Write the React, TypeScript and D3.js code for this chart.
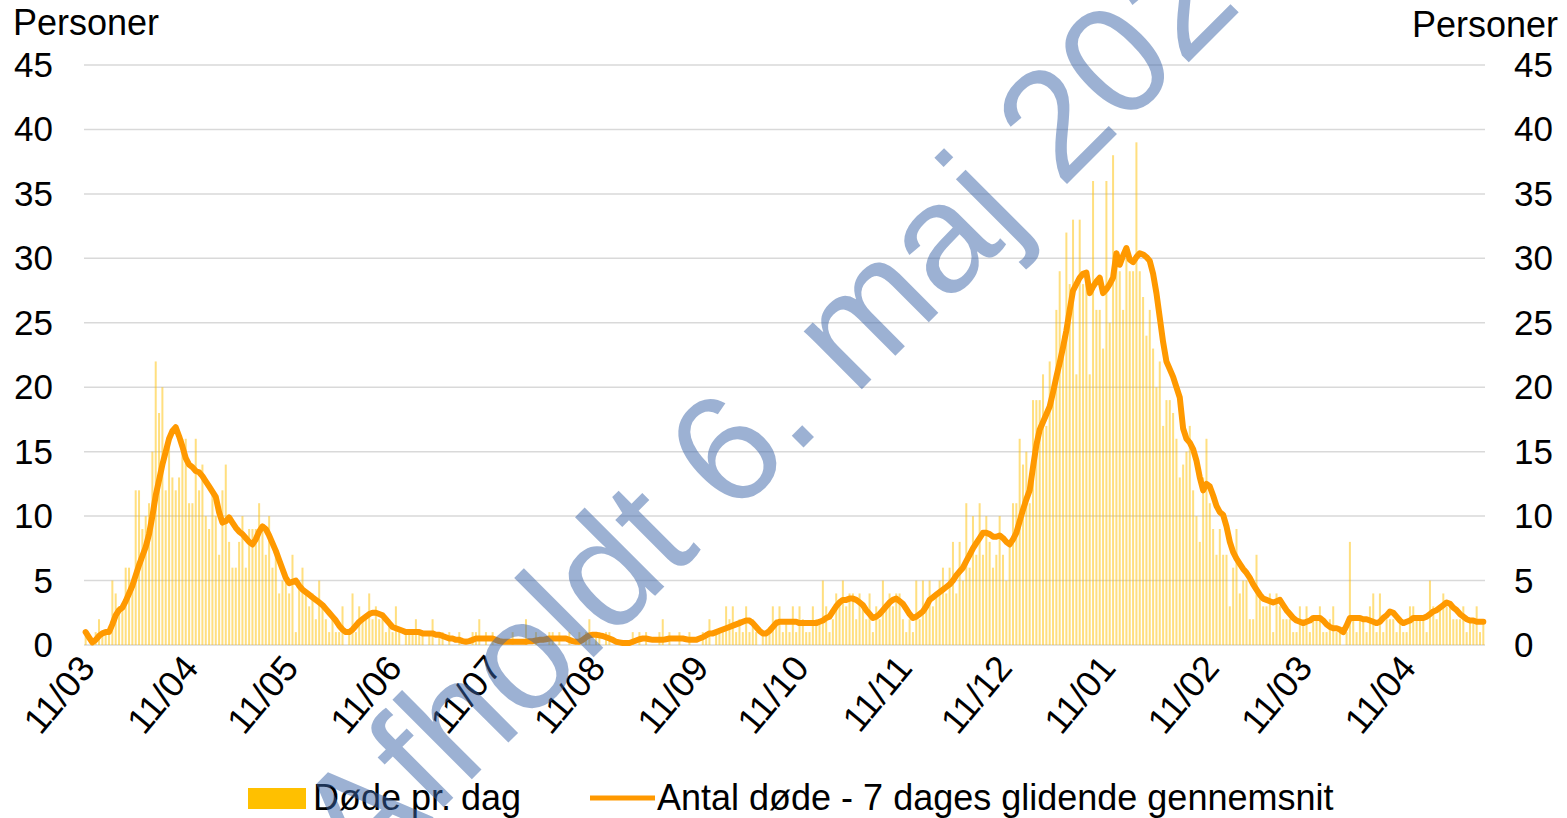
import React from "react";
import * as d3 from "d3";

// Døde pr. dag, 11/03/2020 - 04/05/2021
const dailyDeaths = [
  1, 0, 0, 1, 2, 1, 1, 1, 5, 4,
  3, 3, 6, 6, 5, 12, 12, 9, 10, 11,
  15, 22, 18, 20, 12, 16, 13, 12, 13, 16,
  16, 11, 11, 16, 12, 14, 10, 9, 12, 10,
  7, 12, 14, 8, 6, 6, 8, 10, 6, 9,
  9, 9, 11, 9, 7, 10, 6, 7, 4, 5,
  5, 4, 7, 1, 5, 6, 4, 3, 4, 2,
  5, 3, 2, 1, 2, 1, 1, 3, 0, 1,
  4, 1, 3, 2, 2, 4, 2, 3, 2, 2,
  1, 2, 1, 3, 1, 0, 1, 1, 1, 2,
  1, 1, 0, 1, 2, 0, 1, 1, 0, 1,
  0, 0, 1, 0, 0, 0, 1, 1, 2, 0,
  1, 0, 1, 0, 0, 0, 0, 0, 1, 0,
  0, 0, 2, 0, 0, 1, 0, 0, 0, 1,
  1, 0, 1, 0, 0, 1, 0, 0, 1, 0,
  1, 2, 0, 1, 1, 0, 1, 1, 0, 0,
  0, 0, 0, 0, 1, 0, 1, 0, 1, 0,
  0, 0, 1, 2, 0, 1, 0, 0, 1, 0,
  0, 1, 0, 0, 0, 1, 1, 2, 0, 1,
  1, 1, 3, 2, 3, 1, 2, 1, 3, 1,
  2, 1, 0, 1, 1, 1, 3, 2, 3, 1,
  2, 1, 3, 1, 3, 2, 1, 1, 3, 2,
  2, 5, 3, 1, 2, 4, 3, 5, 3, 4,
  4, 2, 4, 3, 2, 4, 1, 3, 2, 5,
  3, 4, 3, 4, 4, 2, 1, 2, 1, 5,
  2, 5, 3, 5, 3, 4, 5, 6, 4, 6,
  8, 4, 8, 5, 11, 6, 10, 7, 11, 7,
  10, 8, 6, 7, 10, 7, 5, 8, 11, 11,
  16, 14, 15, 11, 19, 19, 19, 21, 17, 22,
  20, 26, 29, 24, 32, 28, 33, 21, 33, 28,
  28, 21, 36, 26, 26, 23, 36, 25, 38, 30,
  29, 26, 30, 29, 29, 39, 29, 27, 24, 26,
  23, 20, 22, 17, 19, 19, 18, 16, 13, 14,
  15, 17, 12, 10, 8, 13, 16, 11, 9, 7,
  9, 7, 7, 3, 6, 9, 4, 5, 5, 2,
  2, 7, 4, 3, 3, 4, 1, 4, 3, 2,
  2, 2, 1, 1, 3, 2, 3, 1, 2, 2,
  3, 1, 1, 2, 3, 1, 1, 0, 1, 8,
  2, 1, 2, 2, 1, 3, 4, 1, 4, 1,
  2, 2, 2, 1, 2, 1, 1, 3, 3, 2,
  2, 2, 1, 5, 3, 2, 3, 4, 3, 3,
  2, 2, 2, 3, 1, 2, 2, 3, 1, 2,
];

// Antal døde - 7 dages glidende gennemsnit
const avg7 = [
  1.0, 0.6, 0.2, 0.4, 0.7, 0.9, 1.0, 1.0, 1.6, 2.3,
  2.7, 2.9, 3.4, 4.0, 4.6, 5.4, 6.2, 6.9, 7.6, 8.6,
  10.0, 11.6, 12.8, 14.0, 15.0, 16.0, 16.6, 16.9, 16.2, 15.4,
  14.5, 14.0, 13.8, 13.5, 13.4, 13.1, 12.7, 12.3, 11.9, 11.5,
  10.3, 9.5, 9.6, 9.9, 9.5, 9.1, 8.8, 8.6, 8.3, 8.0,
  7.8, 8.2, 8.8, 9.2, 9.0, 8.5, 7.9, 7.3, 6.6, 5.9,
  5.2, 4.8, 4.9, 5.0, 4.6, 4.3, 4.1, 3.9, 3.7, 3.5,
  3.3, 3.1, 2.8, 2.5, 2.2, 1.9, 1.5, 1.2, 1.0, 1.0,
  1.2, 1.5, 1.8, 2.0, 2.2, 2.4, 2.5, 2.5, 2.4, 2.3,
  2.0, 1.7, 1.4, 1.3, 1.2, 1.1, 1.0, 1.0, 1.0, 1.0,
  1.0, 0.9, 0.9, 0.9, 0.9, 0.8, 0.8, 0.7, 0.6, 0.5,
  0.5, 0.4, 0.4, 0.3, 0.25, 0.3, 0.4, 0.5, 0.5, 0.5,
  0.5, 0.5, 0.5, 0.4, 0.3, 0.25, 0.25, 0.25, 0.25, 0.25,
  0.25, 0.25, 0.25, 0.3, 0.3, 0.35, 0.4, 0.4, 0.45, 0.5,
  0.5, 0.5, 0.5, 0.5, 0.5, 0.4, 0.3, 0.25, 0.25, 0.4,
  0.6, 0.75, 0.8, 0.8, 0.75, 0.7, 0.6, 0.5, 0.4, 0.25,
  0.2, 0.15, 0.15, 0.15, 0.25, 0.35, 0.45, 0.5, 0.5, 0.45,
  0.4, 0.4, 0.4, 0.4, 0.45, 0.5, 0.5, 0.5, 0.5, 0.5,
  0.45, 0.4, 0.4, 0.4, 0.5, 0.6, 0.75, 0.9, 0.9, 1.0,
  1.1, 1.2, 1.3, 1.4, 1.5, 1.6, 1.7, 1.8, 1.9, 1.9,
  1.7, 1.4, 1.1, 0.9, 0.9, 1.1, 1.4, 1.7, 1.8, 1.8,
  1.8, 1.8, 1.8, 1.8, 1.7, 1.7, 1.7, 1.7, 1.7, 1.7,
  1.8, 1.9, 2.1, 2.2, 2.6, 3.0, 3.3, 3.5, 3.5, 3.6,
  3.6, 3.5, 3.3, 3.1, 2.7, 2.4, 2.1, 2.2, 2.4, 2.7,
  3.0, 3.3, 3.5, 3.6, 3.4, 3.2, 2.8, 2.4, 2.1, 2.2,
  2.4, 2.6, 3.0, 3.5, 3.7, 3.9, 4.1, 4.3, 4.5, 4.7,
  5.0, 5.4, 5.7, 6.0, 6.5, 7.0, 7.5, 7.9, 8.3, 8.7,
  8.7, 8.6, 8.4, 8.4, 8.5, 8.3, 8.0, 7.8, 8.2, 8.7,
  9.6, 10.5, 11.3, 12.0, 13.8, 15.5, 16.7, 17.3, 17.9, 18.5,
  19.6, 20.8, 21.9, 23.1, 24.4, 26.0, 27.5, 28.0, 28.5, 28.8,
  28.9, 27.3, 27.8, 28.2, 28.5, 27.3, 27.6, 28.0, 28.5, 30.4,
  29.5, 30.2, 30.8, 29.9, 29.7, 30.1, 30.4, 30.3, 30.1, 29.8,
  28.8, 27.3, 25.4, 23.5, 22.0, 21.4, 20.8, 20.0, 19.2, 16.8,
  16.0, 15.7, 15.2, 14.3, 13.0, 12.0, 12.5, 12.3, 11.6, 10.8,
  10.3, 10.1, 9.2, 8.0, 7.2, 6.7, 6.3, 5.9, 5.6, 5.2,
  4.7, 4.3, 3.9, 3.6, 3.5, 3.4, 3.3, 3.4, 3.5, 3.1,
  2.7, 2.4, 2.1, 1.9, 1.8, 1.7, 1.8, 1.9, 2.1, 2.1,
  2.1, 1.9, 1.6, 1.4, 1.3, 1.3, 1.2, 1.0, 1.5, 2.1,
  2.1, 2.1, 2.1, 2.0, 2.0, 1.9, 1.8, 1.7, 1.8, 2.1,
  2.3, 2.6, 2.5, 2.2, 1.9, 1.7, 1.8, 1.9, 2.1, 2.1,
  2.1, 2.1, 2.2, 2.4, 2.6, 2.7, 2.9, 3.1, 3.3, 3.2,
  2.9, 2.7, 2.4, 2.2, 2.0, 1.9, 1.9, 1.8, 1.8, 1.8,
];

const startDate = new Date(2020, 2, 11);
const tickMonths = [
  [2020, 2], [2020, 3], [2020, 4], [2020, 5], [2020, 6], [2020, 7], [2020, 8],
  [2020, 9], [2020, 10], [2020, 11], [2021, 0], [2021, 1], [2021, 2], [2021, 3],
];
const yTicks = [0, 5, 10, 15, 20, 25, 30, 35, 40, 45];
const seriesNames = ["Døde pr. dag", "Antal døde - 7 dages glidende gennemsnit"];
const watermark = "Afholdt 6. maj 2021";

const W = 1567;
const H = 818;
const FONT = "'Liberation Sans', Arial, sans-serif";
const BAR = "#FFC000";
const LINE = "#FF9900";
const GRID = "#D9D9D9";

const App = () => {
  const left = 84, right = 1485, top = 65, bottom = 645;

  const x = d3.scaleLinear().domain([-0.5, dailyDeaths.length - 0.5]).range([left, right]);
  const y = d3.scaleLinear().domain([0, 45]).range([bottom, top]);

  const line = d3.line<number>()
    .x((_, i) => x(i))
    .y(d => y(d));

  const fmt = d3.timeFormat("%d/%m");
  const ticks = tickMonths.map(([yr, m]) => {
    const dt = new Date(yr, m, 11);
    return { label: fmt(dt), i: d3.timeDay.count(startDate, dt) };
  });

  const barW = 2.0;

  return (
    <svg width={W} height={H} style={{ position: "absolute", left: 0, top: 0, background: "#fff" }}
      fontFamily={FONT}>
      {yTicks.map(t => (
        <line key={"g" + t} x1={left} x2={right} y1={y(t)} y2={y(t)}
          stroke={GRID} strokeWidth={1.5} />
      ))}
      <g fill={BAR} fillOpacity={0.5}>
        {dailyDeaths.map((d, i) => d > 0 && (
          <rect key={"b" + i} x={x(i) - barW / 2} y={y(d)} width={barW} height={bottom - y(d)} />
        ))}
      </g>
      <path d={line(avg7) || ""} fill="none" stroke={LINE} strokeWidth={6}
        strokeLinejoin="round" strokeLinecap="round" />

      {yTicks.map(t => (
        <g key={"yl" + t} fontSize={35} fill="#000">
          <text x={53} y={y(t) + 12} textAnchor="end">{t}</text>
          <text x={1514} y={y(t) + 12} textAnchor="start">{t}</text>
        </g>
      ))}
      <text x={13} y={35} fontSize={36}>Personer</text>
      <text x={1558} y={37} fontSize={36} textAnchor="end">Personer</text>

      {ticks.map(t => (
        <text key={"x" + t.i} transform={`translate(${x(t.i) + 11},${669}) rotate(-50)`}
          textAnchor="end" fontSize={36}>{t.label}</text>
      ))}

      <rect x={248} y={788} width={58} height={21} fill={BAR} />
      <text x={313} y={810} fontSize={36}>{seriesNames[0]}</text>
      <line x1={590} x2={655} y1={798} y2={798} stroke={LINE} strokeWidth={5} />
      <text x={657} y={810} fontSize={36}>{seriesNames[1]}</text>

      <text transform={`translate(833,418) rotate(-45)`} textAnchor="middle" fontSize={155}
        fill="#3A64A8" fillOpacity={0.5}>{watermark}</text>
    </svg>
  );
};

export default App;
